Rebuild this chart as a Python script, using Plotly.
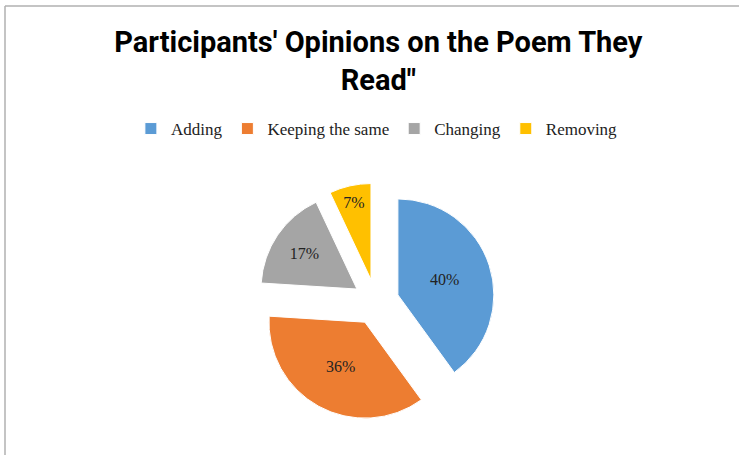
import plotly.graph_objects as go

labels = ["Adding", "Keeping the same", "Changing", "Removing"]
values = [40, 36, 17, 7]
colors = ["#5B9BD5", "#ED7D31", "#A5A5A5", "#FFC000"]

W, H = 739, 455

fig = go.Figure(
    go.Pie(
        labels=labels,
        values=values,
        marker=dict(colors=colors, line=dict(color="white", width=1)),
        sort=False,
        direction="clockwise",
        rotation=0,
        pull=[0.24] * 4,
        textinfo="percent",
        textposition="inside",
        insidetextorientation="horizontal",
        textfont=dict(family="Liberation Serif", size=16, color="#222222"),
        domain=dict(x=[257 / W, 495 / W], y=[34 / H, 272 / H]),
        hoverinfo="label+percent",
    )
)

fig.update_layout(
    width=W,
    height=H,
    margin=dict(l=0, r=0, t=0, b=0),
    paper_bgcolor="white",
    title=dict(
        text="<b>Participants' Opinions on the Poem They<br>Read\"</b>",
        x=0.512,
        xanchor="center",
        y=1 - 52 / H,
        yanchor="top",
        font=dict(family="Roboto", size=29, color="black"),
    ),
    legend=dict(
        orientation="h",
        x=0.51,
        xanchor="center",
        y=1 - 111 / H,
        yanchor="top",
        font=dict(family="Liberation Serif", size=17, color="#222222"),
        itemwidth=30,
        traceorder="normal",
    ),
    shapes=[
        dict(type="line", xref="paper", yref="paper", x0=5 / W, x1=1, y0=1 - 6 / H, y1=1 - 6 / H,
             line=dict(color="#B0B0B0", width=1.5)),
        dict(type="line", xref="paper", yref="paper", x0=5 / W, x1=5 / W, y0=0, y1=1 - 6 / H,
             line=dict(color="#B0B0B0", width=1.5)),
    ],
)

fig.write_html("out.html", config={"displayModeBar": False},
               post_script="document.body.style.margin='0';")
